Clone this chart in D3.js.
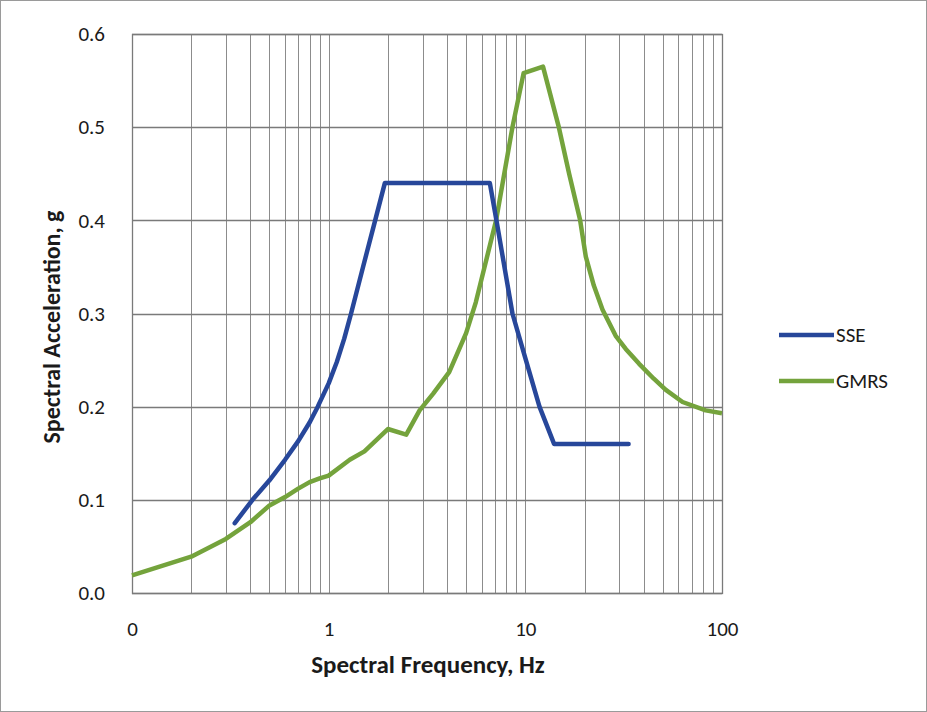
<!DOCTYPE html>
<html>
<head>
<meta charset="utf-8">
<script src="https://cdn.jsdelivr.net/npm/d3@7"></script>
<style>
  body { margin: 0; background: #ffffff; }
  text { font-family: Carlito, Lato, "Open Sans", sans-serif; fill: #1a1a1a; }
</style>
</head>
<body>
<div id="chart"></div>
<script>
// SSE spectrum (frequency Hz, acceleration g)
var sseFreq  = [0.333, 0.41, 0.5, 0.6, 0.7, 0.8, 0.88, 1.0, 1.1, 1.2, 1.3, 1.5, 1.69, 1.93, 6.6, 7.13, 8.6, 10, 11.8, 14, 33.5];
var sseAccel = [0.075, 0.1, 0.121, 0.143, 0.163, 0.183, 0.2, 0.225, 0.248, 0.273, 0.3, 0.351, 0.393, 0.44, 0.44, 0.4, 0.3, 0.252, 0.2, 0.16, 0.16];

// GMRS spectrum
var gmrsFreq  = [0.1, 0.2, 0.3, 0.4, 0.5, 0.6, 0.7, 0.8, 0.9, 1.0, 1.28, 1.52, 2.0, 2.48, 2.9, 3.4, 4.1, 5.0, 5.6, 7.1, 8.6, 9.8, 12.3, 14.8, 16.7, 19.0, 20.3, 22.3, 24.7, 28.8, 32.4, 37.9, 45, 51.8, 63, 82.6, 100];
var gmrsAccel = [0.019, 0.039, 0.058, 0.076, 0.094, 0.103, 0.112, 0.119, 0.123, 0.126, 0.143, 0.152, 0.176, 0.17, 0.196, 0.214, 0.237, 0.279, 0.312, 0.4, 0.5, 0.558, 0.565, 0.5, 0.45, 0.4, 0.361, 0.33, 0.304, 0.276, 0.262, 0.246, 0.23, 0.218, 0.205, 0.196, 0.193];

var xTickValues = [0.1, 1, 10, 100];
var xTickLabels = ["0", "1", "10", "100"];
var yTickValues = [0, 0.1, 0.2, 0.3, 0.4, 0.5, 0.6];

var seriesNames  = ["SSE", "GMRS"];
var seriesColors = ["#27479a", "#74a33c"];

function draw(width, height) {
	var svg = d3.select("#chart").append("svg")
		.attr("width", width)
		.attr("height", height);

	// thin frame round the whole picture
	svg.append("rect")
		.attr("x", 0.5).attr("y", 0.5)
		.attr("width", width - 1).attr("height", height - 1)
		.attr("fill", "none")
		.attr("stroke", "#9a9a9a");

	var margin = { top: 34, right: 205, bottom: 119, left: 132 };
	var w = width - margin.left - margin.right;
	var h = height - margin.top - margin.bottom;

	var panel = svg.append("g")
		.attr("transform", "translate(" + margin.left + "," + margin.top + ")");

	var xScale = d3.scaleLog().domain([0.1, 100]).range([0, w]);
	var yScale = d3.scaleLinear().domain([0, 0.6]).range([h, 0]);

	// vertical grid: every 1..9 of each decade
	var minor = [];
	[0.1, 1, 10].forEach(function(dec) {
		for (var k = 1; k <= 10; k++) minor.push(dec * k);
	});
	panel.selectAll(".vgrid")
		.data(minor)
		.enter().append("line")
		.attr("class", "vgrid")
		.attr("x1", function(d) { return Math.round(xScale(d)) + 0.5; })
		.attr("x2", function(d) { return Math.round(xScale(d)) + 0.5; })
		.attr("y1", 0).attr("y2", h)
		.attr("stroke", "#8c8c8c")
		.attr("stroke-width", 1);

	// horizontal grid
	panel.selectAll(".hgrid")
		.data(yTickValues)
		.enter().append("line")
		.attr("class", "hgrid")
		.attr("x1", 0).attr("x2", w)
		.attr("y1", function(d) { return Math.round(yScale(d)) + 0.5; })
		.attr("y2", function(d) { return Math.round(yScale(d)) + 0.5; })
		.attr("stroke", "#7a7a7a")
		.attr("stroke-width", 1.3);

	// plot border
	panel.append("rect")
		.attr("x", 0.5).attr("y", 0.5)
		.attr("width", w).attr("height", h)
		.attr("fill", "none")
		.attr("stroke", "#7a7a7a")
		.attr("stroke-width", 1.3);

	// axes (labels only, grid drawn above)
	var xAxis = d3.axisBottom(xScale)
		.tickValues(xTickValues)
		.tickSize(0)
		.tickPadding(28)
		.tickFormat(function(d, i) { return xTickLabels[i]; });
	var gx = panel.append("g")
		.attr("transform", "translate(0," + h + ")")
		.call(xAxis);
	gx.select(".domain").remove();
	gx.selectAll("text").style("font-size", "21px").attr("fill", "#1a1a1a");

	var yAxis = d3.axisLeft(yScale)
		.tickValues(yTickValues)
		.tickSize(0)
		.tickPadding(27)
		.tickFormat(d3.format(".1f"));
	var gy = panel.append("g").call(yAxis);
	gy.select(".domain").remove();
	gy.selectAll("text").style("font-size", "21px").attr("fill", "#1a1a1a");

	// lines
	var line = d3.line()
		.x(function(d) { return xScale(d.f); })
		.y(function(d) { return yScale(d.a); });

	var sse = sseFreq.map(function(f, i) { return { f: f, a: sseAccel[i] }; });
	var gmrs = gmrsFreq.map(function(f, i) { return { f: f, a: gmrsAccel[i] }; });

	panel.append("path")
		.datum(gmrs)
		.attr("d", line)
		.attr("fill", "none")
		.attr("stroke", seriesColors[1])
		.attr("stroke-width", 4.5)
		.attr("stroke-linejoin", "round");

	panel.append("path")
		.datum(sse)
		.attr("d", line)
		.attr("fill", "none")
		.attr("stroke", seriesColors[0])
		.attr("stroke-width", 4.5)
		.attr("stroke-linejoin", "round")
		.attr("stroke-linecap", "round");

	// axis titles
	svg.append("text")
		.attr("text-anchor", "middle")
		.attr("x", 428)
		.attr("y", 673)
		.style("font-size", "25px")
		.style("font-weight", "bold")
		.text("Spectral Frequency, Hz");

	svg.append("text")
		.attr("text-anchor", "middle")
		.attr("transform", "translate(60,327) rotate(-90)")
		.style("font-size", "24px")
		.style("font-weight", "bold")
		.text("Spectral Acceleration, g");

	// legend
	for (var i = 0; i < 2; i++) {
		var ly = 335 + 46 * i;
		svg.append("line")
			.attr("x1", 779).attr("x2", 834)
			.attr("y1", ly).attr("y2", ly)
			.attr("stroke", seriesColors[i])
			.attr("stroke-width", 4.5);
		svg.append("text")
			.attr("x", 836)
			.attr("y", ly)
			.attr("dy", ".35em")
			.style("font-size", "21px")
			.text(seriesNames[i]);
	}
}

draw(927, 712);
</script>
</body>
</html>
